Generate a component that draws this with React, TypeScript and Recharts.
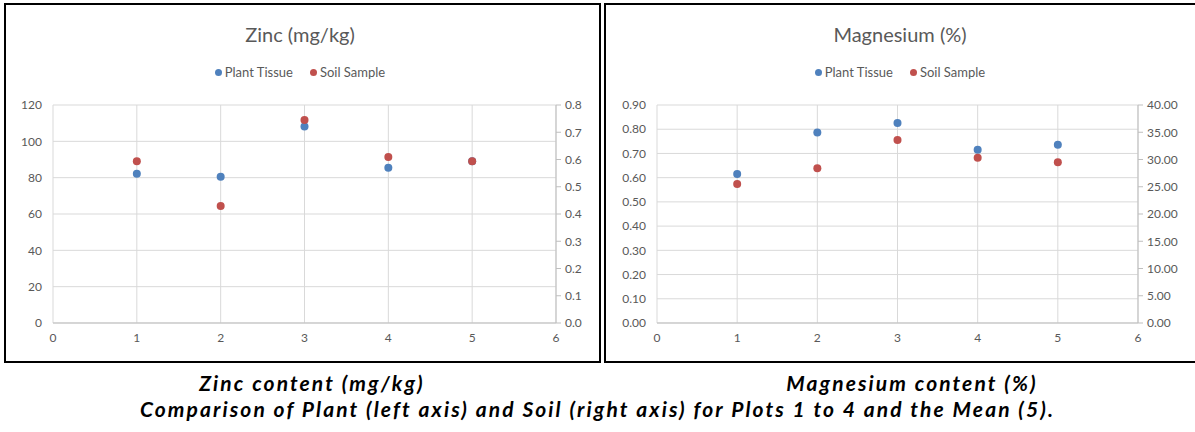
import React from 'react'
import { ScatterChart, Scatter, XAxis, YAxis, CartesianGrid, Legend } from 'recharts'

// plots 1-4, 5 = mean
const plots = [1, 2, 3, 4, 5]

const zincPlant = [82.2, 80.5, 108.1, 85.5, 89.1]
const zincSoil = [0.594, 0.429, 0.745, 0.609, 0.594]

const mgPlant = [0.615, 0.786, 0.826, 0.715, 0.736]
const mgSoil = [25.5, 28.4, 33.6, 30.3, 29.5]

const xTicks = [0, 1, 2, 3, 4, 5, 6]
const zincLeftTicks = [0, 20, 40, 60, 80, 100, 120]
const zincRightTicks = [0, 0.1, 0.2, 0.3, 0.4, 0.5, 0.6, 0.7, 0.8]
const mgLeftTicks = [0, 0.1, 0.2, 0.3, 0.4, 0.5, 0.6, 0.7, 0.8, 0.9]
const mgRightTicks = [0, 5, 10, 15, 20, 25, 30, 35, 40]

const seriesNames = ['Plant Tissue', 'Soil Sample']

const BLUE = '#4F81BD'
const RED = '#C0504D'
const TEXT = '#595959'
const GRID = '#D9D9D9'
const FONT = 'Lato, sans-serif'

const toPoints = (vals: number[]) => plots.map((p, i) => ({ x: p, y: vals[i] }))

const Dot = (props: any) => <circle cx={props.cx} cy={props.cy} r={4} fill={props.fill} />

function LegendRow() {
  const colors = [BLUE, RED]
  return (
    <div style={{ display: 'flex', justifyContent: 'center', gap: 17, fontFamily: FONT, fontSize: 13, color: TEXT }}>
      {seriesNames.map((n, i) => (
        <span key={n} style={{ display: 'flex', alignItems: 'center', gap: 3 }}>
          <svg width={7} height={7}><circle cx={3.5} cy={3.5} r={3.5} fill={colors[i]} /></svg>
          {n}
        </span>
      ))}
    </div>
  )
}

type PanelProps = {
  left: number
  width: number
  title: string
  plant: number[]
  soil: number[]
  leftTicks: number[]
  rightTicks: number[]
  leftFmt: (v: number) => string
  rightFmt: (v: number) => string
  margin: { top: number; right: number; bottom: number; left: number }
  leftW: number
  rightW: number
}

function Panel(p: PanelProps) {
  const tick = { fill: TEXT, fontSize: 12, fontFamily: FONT }
  return (
    <div style={{ position: 'absolute', left: p.left, top: 0, width: p.width, height: 362 }}>
      <div style={{ position: 'absolute', top: 22, left: 0, width: p.width, textAlign: 'center', fontFamily: FONT, fontSize: 20, color: TEXT }}>
        {p.title}
      </div>
      <ScatterChart width={p.width} height={362} margin={p.margin}>
        <CartesianGrid yAxisId="left" stroke={GRID} />
        <XAxis
          type="number"
          dataKey="x"
          domain={[0, 6]}
          ticks={xTicks}
          tick={tick}
          tickLine={false}
          axisLine={{ stroke: '#BFBFBF' }}
          height={20}
          tickMargin={4}
        />
        <YAxis
          yAxisId="left"
          type="number"
          dataKey="y"
          domain={[p.leftTicks[0], p.leftTicks[p.leftTicks.length - 1]]}
          ticks={p.leftTicks}
          tickFormatter={p.leftFmt}
          tick={tick}
          tickLine={false}
          axisLine={false}
          width={p.leftW}
          tickMargin={5}
        />
        <YAxis
          yAxisId="right"
          orientation="right"
          type="number"
          dataKey="y"
          domain={[p.rightTicks[0], p.rightTicks[p.rightTicks.length - 1]]}
          ticks={p.rightTicks}
          tickFormatter={p.rightFmt}
          tick={tick}
          tickLine={{ stroke: '#BFBFBF' }}
          tickSize={5}
          axisLine={{ stroke: '#BFBFBF' }}
          width={p.rightW}
          tickMargin={4}
        />
        <Legend
          layout="horizontal"
          verticalAlign="middle"
          align="center"
          content={() => <LegendRow />}
          wrapperStyle={{ top: 64, left: 0, width: p.width }}
        />
        <Scatter name={seriesNames[0]} yAxisId="left" data={toPoints(p.plant)} fill={BLUE} shape={Dot} isAnimationActive={false} />
        <Scatter name={seriesNames[1]} yAxisId="right" data={toPoints(p.soil)} fill={RED} shape={Dot} isAnimationActive={false} />
      </ScatterChart>
    </div>
  )
}

const box = { position: 'absolute' as const, top: 3, height: 360, border: '2px solid #000', boxSizing: 'border-box' as const }
const caption = {
  position: 'absolute' as const,
  fontFamily: FONT,
  fontWeight: 700,
  fontStyle: 'italic',
  fontSize: 21,
  letterSpacing: 2.1,
  lineHeight: '24px',
  color: '#000',
  textAlign: 'center' as const,
  whiteSpace: 'nowrap' as const,
}

export default function App() {
  return (
    <div style={{ position: 'absolute', left: 0, top: 0, width: 1195, height: 432, background: '#fff', overflow: 'hidden' }}>
      <div style={{ ...box, left: 4, width: 597 }} />
      <div style={{ ...box, left: 604, width: 600 }} />
      <Panel
        left={0}
        width={600}
        title="Zinc (mg/kg)"
        plant={zincPlant}
        soil={zincSoil}
        leftTicks={zincLeftTicks}
        rightTicks={zincRightTicks}
        leftFmt={(v) => String(v)}
        rightFmt={(v) => v.toFixed(1)}
        margin={{ top: 105, right: 6, bottom: 19, left: 5 }}
        leftW={48}
        rightW={38}
      />
      <Panel
        left={605}
        width={590}
        title="Magnesium (%)"
        plant={mgPlant}
        soil={mgSoil}
        leftTicks={mgLeftTicks}
        rightTicks={mgRightTicks}
        leftFmt={(v) => v.toFixed(2)}
        rightFmt={(v) => v.toFixed(2)}
        margin={{ top: 105, right: 7, bottom: 19, left: 4 }}
        leftW={48}
        rightW={50}
      />
      <div style={{ ...caption, left: 12, width: 600, top: 371 }}>Zinc content (mg/kg)</div>
      <div style={{ ...caption, left: 612, width: 600, top: 371 }}>Magnesium content (%)</div>
      <div style={{ ...caption, left: 0, width: 1195, top: 397 }}>
        Comparison of Plant (left axis) and Soil (right axis) for Plots 1 to 4 and the Mean (5).
      </div>
    </div>
  )
}
